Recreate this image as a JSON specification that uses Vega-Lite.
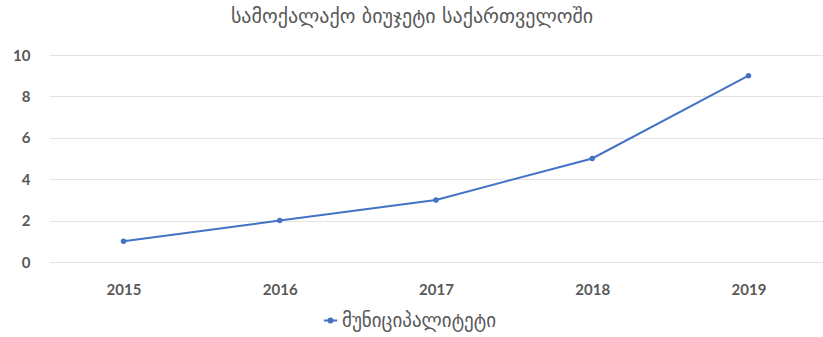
{
  "$schema": "https://vega.github.io/schema/vega-lite/v6.json",
  "width": 774,
  "height": 207,
  "autosize": {"type": "none"},
  "padding": {"left": 49, "right": 0, "top": 55, "bottom": 75},
  "background": "white",
  "config": {"view": {"stroke": null}},
  "title": {
    "text": "სამოქალაქო ბიუჯეტი საქართველოში",
    "font": "DejaVu Sans",
    "fontSize": 20,
    "fontWeight": "normal",
    "color": "#595959",
    "anchor": "middle",
    "dx": -24,
    "offset": 21
  },
  "data": {
    "values": [
      {"year": "2015", "value": 1, "series": "მუნიციპალიტეტი"},
      {"year": "2016", "value": 2, "series": "მუნიციპალიტეტი"},
      {"year": "2017", "value": 3, "series": "მუნიციპალიტეტი"},
      {"year": "2018", "value": 5, "series": "მუნიციპალიტეტი"},
      {"year": "2019", "value": 9, "series": "მუნიციპალიტეტი"}
    ]
  },
  "mark": {"type": "line", "strokeWidth": 2, "point": {"filled": true, "size": 30}},
  "encoding": {
    "x": {
      "field": "year", "type": "ordinal", "title": null,
      "scale": {"type": "point", "padding": 0.477},
      "axis": {"labelAngle": 0, "domain": false, "ticks": false, "grid": false, "labelFont": "Lato", "labelFontSize": 15, "labelFontWeight": "bold", "labelColor": "#595959", "labelPadding": 20}
    },
    "y": {
      "field": "value", "type": "quantitative", "title": null,
      "scale": {"domain": [0, 10]},
      "axis": {"values": [0, 2, 4, 6, 8, 10], "domain": false, "ticks": false, "gridColor": "#e3e3e3", "labelFont": "Lato", "labelFontSize": 15, "labelFontWeight": "bold", "labelColor": "#595959", "labelPadding": 19}
    },
    "color": {
      "field": "series", "type": "nominal", "title": null,
      "scale": {"range": ["#4472C4"]},
      "legend": {"orient": "none", "legendX": 272, "legendY": 256, "direction": "horizontal", "symbolType": "M-1,0H1M-0.3,0a0.3,0.3 0 1,0 0.6,0a0.3,0.3 0 1,0 -0.6,0", "symbolSize": 180, "symbolStrokeWidth": 2, "labelFont": "DejaVu Sans", "labelFontSize": 19, "labelColor": "#595959", "labelOffset": 2}
    }
  }
}
